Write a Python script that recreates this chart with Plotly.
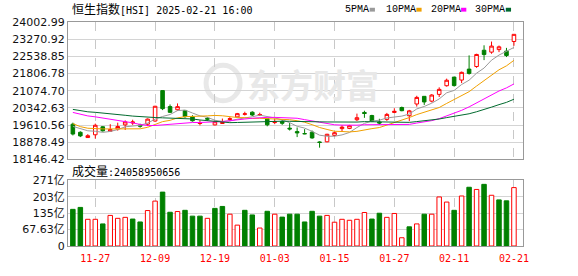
import plotly.graph_objects as go
import pandas as pd

# ---------------- data ----------------
dates = ["11-22", "11-25", "11-26", "11-27", "11-28", "11-29",
         "12-02", "12-03", "12-04", "12-05", "12-06",
         "12-09", "12-10", "12-11", "12-12", "12-13",
         "12-16", "12-17", "12-18", "12-19", "12-20",
         "12-23", "12-24", "12-27", "12-30", "12-31",
         "01-02", "01-03", "01-06", "01-07", "01-08", "01-09", "01-10",
         "01-13", "01-14", "01-15", "01-16", "01-17",
         "01-20", "01-21", "01-22", "01-23", "01-24",
         "01-27", "01-28",
         "02-03", "02-04", "02-05", "02-06", "02-07",
         "02-10", "02-11", "02-12", "02-13", "02-14",
         "02-17", "02-18", "02-19", "02-20", "02-21"]

open_ = [19650, 19305, 19080, 19199, 19539, 19348,
         19443, 19621, 19700, 19620, 19650,
         19785, 21080, 20400, 20265, 20235,
         19960, 19680, 19900, 19620, 19680,
         19850, 19960, 20070, 20160, 20040,
         19880, 19720, 19760, 19480, 19334, 19250, 19310,
         18890, 18900, 19170, 19460, 19470,
         19840, 20150, 20018, 19740, 19854,
         20150, 20360,
         20010, 20510, 20836, 20632, 20919,
         21288, 21656, 21530, 21996, 22107,
         22800, 22720, 22828, 22762, 23172]
high = [19715, 19346, 19225, 19673, 19567, 19650,
        19715, 19813, 19840, 19670, 19895,
        20430, 21090, 20490, 20534, 20240,
        20030, 19820, 19950, 19800, 19890,
        19950, 20130, 20180, 20200, 20140,
        19920, 19880, 19830, 19700, 19510, 19440, 19380,
        18920, 19240, 19330, 19600, 19620,
        20100, 20223, 20050, 19880, 20130,
        20330, 20400,
        20260, 20860, 20840, 20930, 21220,
        21590, 21660, 21890, 22582, 22650,
        23010, 23170, 23000, 22900, 23480]
low = [19170, 19100, 19070, 19035, 19334, 19340,
       19375, 19404, 19620, 19500, 19567,
       19750, 20250, 20125, 20222, 19920,
       19760, 19600, 19800, 19600, 19670,
       19780, 19940, 20020, 20000, 20000,
       19560, 19650, 19620, 19380, 19100, 19220, 19030,
       18650, 18880, 19130, 19330, 19440,
       19780, 19920, 19740, 19630, 19790,
       20120, 20200,
       19780, 20400, 20470, 20580, 20808,
       21250, 21250, 21400, 21763, 22050,
       22380, 22650, 22720, 22510, 22990]
close = [19229.97, 19150.99, 19159.20, 19603.13, 19366.96, 19423.61,
         19550.29, 19746.32, 19742.46, 19560.44, 19865.85,
         20414.09, 20311.28, 20155.05, 20397.05, 19971.24,
         19795.49, 19700.42, 19864.55, 19752.51, 19720.70,
         19883.13, 20098.29, 20090.46, 20041.42, 20059.95,
         19623.32, 19760.27, 19688.29, 19447.58, 19279.84, 19240.89, 19064.29,
         18874.14, 19219.78, 19286.07, 19522.89, 19584.06,
         19925.81, 20106.55, 19778.77, 19700.56, 20066.19,
         20197.77, 20225.11,
         20217.26, 20789.96, 20597.09, 20891.62, 21133.54,
         21521.98, 21294.86, 21857.92, 21814.37, 22620.33,
         22616.23, 22976.81, 22944.24, 22576.98, 23477.92]
# closes of the 29 sessions before the window (for the moving averages)
prior_close = [21092, 20318, 20286, 20079, 20804, 20478, 20498, 20760, 20489, 20590,
               20599, 20701, 20380, 20317, 20506, 20567, 21006, 20538, 20953, 20728,
               20426, 19846, 19823, 19435, 19426, 19576, 19663, 19705, 19601]
# volume in 亿 (1e8)
volume = [151, 159, 110, 110, 91, 126, 114, 118, 111, 99, 146,
          185, 222, 139, 142, 147, 123, 123, 114, 155, 163,
          131, 86, 147, 128, 74, 143, 131, 119, 131, 131, 99, 143,
          123, 126, 98, 110, 106, 110, 138, 111, 135, 118,
          134, 34, 79, 91, 131, 131, 202, 181, 147, 206, 242, 233,
          254, 209, 190, 186, 240.58950656]

ma_periods = [5, 10, 20, 30]
ma_names = ["5PMA", "10PMA", "20PMA", "30PMA"]
ma_colors = ["#9a9a9a", "#f0a000", "#ff00ff", "#006a2e"]

price_ticks = ["18146.42", "18878.49", "19610.56", "20342.63", "21074.70",
               "21806.78", "22538.85", "23270.92", "24002.99"]
vol_tickvals = [0, 67.63, 135.26, 202.89, 270.52]
vol_ticktext = ["0", "67.63亿", "135亿", "203亿", "271亿"]
tick_dates = ["11-27", "12-09", "12-19", "01-03", "01-15", "01-27", "02-11", "02-21"]

title_cn = "恒生指数"
title_rest = "[HSI] 2025-02-21 16:00"
vol_label_cn = "成交量"
vol_label_rest = ":24058950656"

# ---------------- derived ----------------
RED = "#ff0000"
GREEN = "#008000"
idx = list(range(len(dates)))
all_close = pd.Series(prior_close + close)
mas = [all_close.rolling(p).mean().iloc[len(prior_close):].tolist() for p in ma_periods]
prevs = [prior_close[-1]] + close[:-1]
vol_up = [c >= p for c, p in zip(close, prevs)]
tickvals = [dates.index(d) for d in tick_dates]
pvals = [float(t) for t in price_ticks]

# pixel geometry helpers
W, H = 578, 276
ML, MR, MT, MB = 55, 55, 22, 21
PW, PH = W - ML - MR, H - MT - MB
def px(x):
    return (x - ML) / PW
def py(y):
    return (H - MB - y) / PH

fig = go.Figure()

fig.add_trace(go.Candlestick(
    x=idx, open=open_, high=high, low=low, close=close,
    xaxis="x2", yaxis="y",
    increasing=dict(line=dict(color=RED, width=1), fillcolor="white"),
    decreasing=dict(line=dict(color=GREEN, width=1), fillcolor=GREEN),
    whiskerwidth=0, hoverinfo="skip", showlegend=False))

for m, name, col in zip(mas, ma_names, ma_colors):
    fig.add_trace(go.Scatter(x=idx, y=m, mode="lines", name=name,
                             line=dict(color=col, width=1),
                             xaxis="x2", yaxis="y", hoverinfo="skip",
                             showlegend=False))

fig.add_trace(go.Bar(
    x=idx, y=volume, xaxis="x", yaxis="y2", width=0.6,
    marker=dict(color=["white" if u else GREEN for u in vol_up],
                line=dict(color=[RED if u else GREEN for u in vol_up], width=1)),
    hoverinfo="skip", showlegend=False))

frame = dict(showline=True, mirror=True, linecolor="#999999", linewidth=1,
             zeroline=False)
xr = [-0.65, 60.21]
fig.update_layout(
    width=W, height=H, margin=dict(l=ML, r=MR, t=MT, b=MB),
    paper_bgcolor="white", plot_bgcolor="white",
    hovermode=False, boxgap=0.32, bargap=0.2,
    xaxis=dict(domain=[0, 1], anchor="y2", range=xr,
               tickvals=tickvals, ticktext=tick_dates,
               ticks="outside", ticklen=3, tickcolor="rgba(0,0,0,0)",
               tickfont=dict(family="DejaVu Sans Mono", size=10, color=RED),
               showgrid=True, gridcolor="#c8c8c8", griddash="dash", gridwidth=1,
               rangeslider=dict(visible=False), **frame),
    xaxis2=dict(domain=[0, 1], anchor="y", matches="x", range=xr,
                tickvals=tickvals, showticklabels=False, ticks="",
                showgrid=True, gridcolor="#c8c8c8", griddash="dash", gridwidth=1,
                rangeslider=dict(visible=False), **frame),
    yaxis=dict(domain=[py(165), 1], anchor="x2",
               range=[pvals[0], pvals[-1]],
               tickvals=pvals, ticktext=price_ticks, ticks="",
               tickfont=dict(family="DejaVu Sans", size=11, color="#111111"),
               showgrid=True, gridcolor="#d4d4d4", gridwidth=1, **frame),
    yaxis2=dict(domain=[0, py(186.7)], anchor="x",
                range=[0, vol_tickvals[-1]],
                tickvals=vol_tickvals, ticktext=vol_ticktext, ticks="",
                tickfont=dict(family="DejaVu Sans, Noto Sans CJK SC", size=11,
                              color="#111111"),
                showgrid=True, gridcolor="#d4d4d4", gridwidth=1, **frame),
)

anns = []
# watermark
anns.append(dict(x=px(307), y=py(87), xref="paper", yref="paper",
                 text="<b>东方财富</b>", showarrow=False,
                 font=dict(family="Noto Sans CJK SC", size=33, color="#e8e8e8"),
                 xanchor="center", yanchor="middle"))
fig.add_shape(type="circle", xref="paper", yref="paper",
              x0=px(197), x1=px(232), y0=py(104), y1=py(67),
              line=dict(color="#e8e8e8", width=5), layer="below")

mono = "DejaVu Sans Mono, Noto Sans CJK SC"
anns.append(dict(x=px(57), y=py(8.5), xref="paper", yref="paper",
                 text=f"<span style='font-size:12px'>{title_cn}</span>{title_rest}",
                 showarrow=False, xanchor="left", yanchor="middle",
                 font=dict(family=mono, size=10, color="#000000")))
anns.append(dict(x=px(57), y=py(177.5), xref="paper", yref="paper",
                 text=f"<span style='font-size:12px'>{vol_label_cn}</span>{vol_label_rest}",
                 showarrow=False, xanchor="left", yanchor="middle",
                 font=dict(family=mono, size=10, color="#000000")))
leg_x = [338, 380, 426, 472]
sq_x = [365.3, 413.3, 459.3, 505.3]
for name, col, lx, sx in zip(ma_names, ma_colors, leg_x, sq_x):
    anns.append(dict(x=px(lx), y=py(8.7), xref="paper", yref="paper",
                     text=name, showarrow=False, xanchor="left", yanchor="middle",
                     font=dict(family="Liberation Mono", size=10, color="#000000")))
    fig.add_shape(type="rect", xref="paper", yref="paper",
                  x0=px(sx), x1=px(sx + 5.4), y0=py(11.2), y1=py(7.2),
                  line=dict(width=0), fillcolor=col)
fig.update_layout(annotations=anns)

fig.write_html("out.html")
